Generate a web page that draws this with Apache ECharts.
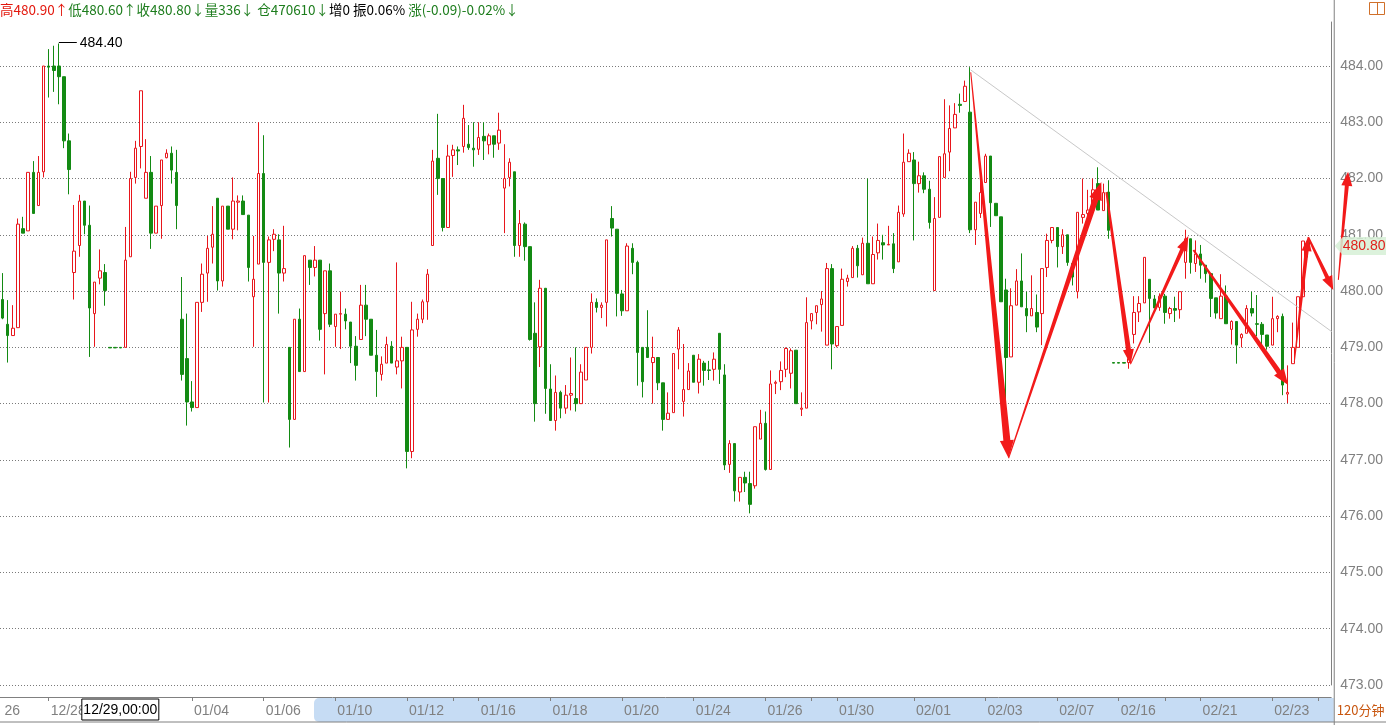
<!DOCTYPE html>
<html><head><meta charset="utf-8">
<script src="https://cdn.jsdelivr.net/npm/echarts@6/dist/echarts.min.js"></script>
<style>html,body{margin:0;padding:0;background:#fff;}#c{width:1386px;height:725px;}</style>
</head><body><div id="c"></div>
<script>
// ---------- DATA ----------
const opens = [
479.85,479.41,479.21,479.35,481.11,481.07,482.11,481.52,482.12,484.00,
484.00,484.00,483.81,482.67,480.33,480.81,481.60,481.17,479.60,480.23,
480.33,479.00,479.00,479.00,479.00,480.61,482.02,482.57,481.65,482.11,
481.03,481.52,482.37,482.45,482.11,479.50,478.80,478.03,477.93,479.80,
480.32,480.78,481.65,480.18,481.51,481.10,481.58,481.60,481.35,479.90,
480.48,482.09,480.51,480.92,480.91,480.32,479.00,477.72,479.50,478.57,
480.55,480.42,480.55,479.60,480.36,479.37,479.59,479.59,479.45,479.02,
479.14,479.75,479.50,478.86,478.52,478.72,479.02,478.65,478.76,479.00,
477.15,479.32,479.50,479.81,480.81,482.36,482.00,481.13,482.41,482.51,
482.57,482.61,482.54,482.52,482.75,482.60,482.76,482.63,481.83,482.02,
482.12,480.81,481.19,480.79,479.25,479.01,480.05,478.26,477.70,478.20,
477.92,478.15,478.09,478.00,478.42,479.00,479.80,479.71,479.80,481.29,
481.10,479.95,479.65,480.76,480.51,479.00,479.00,478.73,478.82,478.37,
477.72,477.84,478.97,478.04,478.25,478.86,478.38,478.72,478.60,478.61,
479.25,478.51,476.92,477.29,476.43,476.69,476.58,476.54,477.37,477.65,
476.83,478.36,478.39,478.61,478.54,478.95,477.90,477.92,479.47,479.62,
479.76,479.04,480.40,479.03,479.39,480.17,480.24,480.76,480.29,480.85,
480.13,480.68,480.86,480.82,480.84,480.52,481.37,482.30,482.33,481.91,
482.05,481.81,480.01,481.31,482.02,482.47,482.90,483.32,483.37,483.18,
481.09,481.38,481.93,482.40,481.56,481.32,480.02,478.83,479.75,480.18,
479.69,479.56,479.62,479.60,480.42,480.90,481.13,480.79,481.00,480.49,
479.99,481.31,481.38,481.44,481.91,481.43,481.76,478.73,478.73,478.73,
478.73,479.23,479.63,479.79,480.21,479.86,479.71,479.91,479.60,479.69,
479.67,480.51,480.93,480.49,480.66,480.46,480.31,479.88,479.51,479.91,
479.32,479.46,479.17,479.25,479.69,479.42,479.41,479.22,479.04,479.51,
479.55,478.17,478.71,479.00,479.90,480.87];
const closes = [
479.52,479.21,479.34,481.19,481.03,482.11,481.38,482.11,484.00,483.98,
483.92,483.81,482.67,482.16,480.71,481.60,481.17,479.70,480.16,480.36,
480.01,478.99,478.99,478.99,480.55,482.00,482.54,483.56,482.11,481.03,
481.51,482.33,482.45,482.15,481.52,478.52,478.03,477.93,479.80,480.30,
480.76,481.01,480.18,481.51,481.10,481.60,481.60,481.36,480.42,480.21,
482.09,480.51,480.91,481.01,480.32,480.40,477.72,479.50,478.57,480.63,
480.42,480.55,479.32,480.36,479.41,479.59,479.60,479.47,479.02,478.68,
479.75,479.50,478.86,478.57,478.70,479.05,478.72,478.76,479.00,477.15,
479.31,479.50,479.81,480.30,482.31,482.00,481.13,482.40,482.51,482.49,
483.07,482.55,482.51,482.73,482.67,482.76,482.61,482.86,482.00,482.29,
480.81,481.20,480.79,479.14,478.00,480.05,478.27,477.70,478.20,477.92,
478.15,478.18,478.00,478.56,479.00,479.80,479.71,479.75,480.91,481.12,
479.96,479.65,480.80,480.51,478.91,478.39,478.82,478.82,478.37,477.72,
477.83,478.89,479.31,478.25,478.58,478.38,478.79,478.59,478.59,478.79,
478.61,476.91,477.29,476.45,476.69,476.59,476.21,477.59,477.65,476.83,
478.35,478.38,478.59,478.98,478.94,478.00,477.92,479.44,479.60,479.74,
479.86,480.40,479.06,479.37,480.21,480.23,480.76,480.45,480.85,480.13,
480.65,480.90,480.82,480.83,480.40,481.40,482.29,482.45,481.91,482.05,
481.81,481.22,481.29,482.39,482.44,482.89,483.14,483.30,483.64,481.09,
481.58,481.75,482.40,481.57,481.34,479.81,478.82,479.74,480.18,479.72,
479.56,479.69,479.36,480.40,480.90,481.13,480.79,481.00,480.51,480.25,
481.40,481.36,481.44,481.80,481.44,481.75,481.08,478.72,478.72,478.72,
478.80,479.62,479.78,480.60,479.87,479.70,479.91,479.62,479.69,479.66,
479.99,480.93,480.51,480.66,480.46,480.31,479.87,479.61,479.91,479.42,
479.46,479.04,479.23,479.69,479.61,479.41,479.23,479.02,479.51,479.55,
478.33,478.20,479.00,479.90,480.89,480.80];
const lows = [
479.50,478.73,479.21,479.35,481.03,481.07,481.38,481.52,482.02,483.44,
483.54,483.32,482.54,481.72,479.85,480.61,481.01,478.83,479.01,480.12,
479.74,478.99,478.99,478.99,479.00,480.61,481.91,482.18,481.65,480.75,
481.03,480.93,482.36,481.91,481.10,478.41,477.61,477.86,477.93,479.63,
479.81,480.49,480.01,480.08,481.10,480.92,481.08,481.36,480.17,479.01,
480.48,478.02,478.02,480.71,479.60,480.17,477.22,477.72,478.57,478.57,
480.11,480.26,479.12,478.52,479.36,479.01,478.97,479.32,478.72,478.41,
479.14,479.20,478.86,478.12,478.41,478.72,478.72,478.52,478.27,476.85,
477.03,479.19,479.43,479.49,480.81,481.71,481.06,481.13,482.03,482.24,
482.46,482.51,482.21,482.42,482.33,482.43,482.37,482.51,481.03,481.86,
480.61,480.61,480.54,479.12,477.68,478.65,477.82,477.70,477.52,477.74,
477.82,477.88,477.86,478.00,478.42,478.89,479.62,479.52,479.37,480.97,
479.55,479.56,479.65,480.30,478.32,478.11,478.82,478.00,478.24,477.52,
477.72,477.84,478.61,477.77,478.25,478.38,478.18,478.32,478.42,478.41,
478.35,476.82,476.77,476.26,476.26,476.43,476.05,476.49,477.37,476.81,
476.83,478.17,478.24,478.47,478.27,478.00,477.78,477.92,479.32,479.41,
479.28,479.04,478.61,479.00,479.39,480.08,480.24,480.24,480.29,480.13,
480.13,480.56,480.56,480.82,480.32,480.52,481.32,482.30,480.90,481.75,
481.74,481.11,480.01,481.31,482.02,482.13,482.90,483.17,483.37,481.03,
480.82,481.30,481.93,481.14,481.34,479.81,478.00,478.83,479.75,479.72,
479.27,479.56,479.27,479.04,480.25,480.85,480.42,480.66,480.45,480.10,
479.87,481.20,481.30,481.44,481.44,481.43,480.93,478.72,478.72,478.72,
478.62,479.07,479.45,479.79,479.08,479.70,479.65,479.42,479.51,479.45,
479.51,480.22,480.31,480.34,480.22,480.15,479.54,479.51,479.51,479.42,
479.05,478.71,479.00,479.25,479.55,479.20,478.96,478.96,479.04,479.27,
478.15,478.01,478.71,479.00,479.90,480.60];
const highs = [
480.32,479.84,479.75,481.29,481.32,482.11,482.31,482.40,484.00,484.30,
484.36,484.40,483.81,482.80,481.53,481.71,481.60,481.52,480.16,480.74,
480.48,479.00,479.00,479.00,481.14,482.12,482.67,483.56,482.70,482.40,
481.51,482.33,482.52,482.57,482.51,480.25,479.60,478.40,479.80,480.49,
480.98,481.51,481.65,481.51,481.51,482.02,481.70,481.70,481.35,480.98,
483.00,482.77,480.97,481.10,481.01,481.16,479.00,479.50,479.69,480.63,
480.55,480.80,480.55,480.36,480.49,479.59,479.99,479.69,479.45,479.20,
480.11,480.11,479.50,479.31,478.84,479.19,479.11,480.51,479.19,479.00,
479.81,479.60,479.85,480.39,482.51,483.15,482.00,482.60,482.60,482.57,
483.31,482.95,483.00,483.00,483.00,482.80,482.76,483.17,482.61,482.36,
482.12,481.44,481.22,480.79,479.80,480.20,480.05,478.70,478.50,478.23,
478.33,478.82,479.00,478.70,479.00,479.96,479.87,479.80,480.91,481.51,
481.10,480.02,480.85,480.85,480.54,479.00,479.66,479.19,478.82,478.37,
478.20,478.89,479.36,479.06,478.72,478.86,478.88,478.76,478.76,478.91,
479.25,478.70,477.35,477.29,476.69,476.79,476.79,477.59,477.89,477.86,
478.59,478.41,478.75,479.00,478.98,478.95,478.20,479.89,479.60,479.74,
480.00,480.50,480.48,479.37,480.40,480.29,480.80,480.82,480.95,482.00,
480.97,481.20,481.00,481.16,481.03,481.52,482.80,482.52,482.47,482.30,
482.11,481.96,481.67,482.39,483.41,483.30,483.34,483.51,483.74,483.98,
481.58,482.00,482.44,482.40,481.56,481.32,480.22,480.05,480.39,480.67,
479.99,480.28,479.94,480.40,481.02,481.13,481.13,481.10,481.00,480.49,
481.40,482.00,481.80,482.00,482.20,481.91,481.97,478.73,478.73,478.73,
478.83,479.91,479.91,480.60,480.21,479.93,479.96,479.95,479.72,479.90,
479.99,481.09,480.93,480.90,480.82,480.46,480.31,479.88,480.30,480.10,
479.48,479.46,479.25,479.75,479.99,479.93,479.45,479.22,479.90,479.57,
479.60,478.68,479.44,479.90,480.89,480.90];

const slotCount = 260;                 // category slots on the time axis (incl. empty right margin)
const dateLabelIdx = [0, 9, 37, 51, 65, 79, 93, 107, 121, 135, 149, 163, 178, 192, 206, 218, 234, 248];
const dateLabels   = ['26','12/28','01/04','01/06','01/10','01/12','01/16','01/18','01/20','01/24','01/26','01/30','02/01','02/03','02/07','02/16','02/21','02/23'];
const extraTickIdx = [88, 158, 227, 257];
const cursorIdx = 23, cursorLabel = '12/29,00:00';
const yTicksMin = 473, yTop = 484.782;
const lastPrice = 480.80, peakIdx = 11, peakPrice = 484.40;
// annotation arrows: [startIdx, startPrice, endIdx, endPrice, startWidth, endWidth, headLen, headWidth]
const arrows = [
  [189.1, 483.89, 196.5, 477.03, 1, 7, 18, 14],
  [196.5, 477.03, 214.6, 481.94, 1, 6, 18, 13],
  [215.6, 481.76, 220.3, 478.70, 2, 5, 15, 11],
  [220.3, 478.70, 231.6, 480.98, 1, 4, 15, 11],
  [232.6, 480.73, 251.1, 478.33, 2, 5, 16, 12],
  [252.3, 478.74, 255.0, 480.96, 1, 4, 14, 10],
  [255.0, 480.96, 259.9, 480.02, 2, 4, 14, 11],
  [260.9, 480.20, 262.8, 482.12, 1, 4, 14, 11]
];
const trendLine = [189.1, 483.93, 259.6, 479.28];
const header = [
  ['r','高480.90↑'],['g','低480.60↑'],['g','收480.80↓'],['g','量336↓'],['k',' '],['g','仓470610↓'],['k','增0 振0.06% '],['g','涨(-0.09)-0.02%↓']
];

// ---------- BUILD ----------
const RED = '#e8161c', GREEN = '#138a13', GRAY = '#808080';
const categories = Array.from({length: slotCount}, (_, i) => 'k' + i);
const candles = opens.map((o, i) => [o, closes[i], lows[i], highs[i]]);
const labelMap = new Map(dateLabelIdx.map((d, i) => [d, dateLabels[i]]));
const tickSet = new Set(dateLabelIdx.filter(i => i > 0).concat(extraTickIdx));
const FONT = 'Liberation Sans, Arial, sans-serif';

const chart = echarts.init(document.getElementById('c'));
chart.setOption({
  animation: false,
  backgroundColor: '#ffffff',
  grid: {left: 0, right: 53, top: 22, bottom: 40, containLabel: false},
  xAxis: {
    type: 'category', data: categories, boundaryGap: true, offset: 12,
    axisLine: {show: true, lineStyle: {color: GRAY, width: 1}},
    axisTick: {show: true, alignWithLabel: true, length: 4, interval: (i) => tickSet.has(i), lineStyle: {color: GRAY}},
    axisLabel: {show: true, interval: (i) => labelMap.has(i), formatter: (v, i) => labelMap.get(i) || '',
      align: 'left', color: GRAY, fontSize: 14, fontFamily: FONT, margin: 7, padding: [0, 0, 0, 2]},
    splitLine: {show: false}
  },
  yAxis: {
    type: 'value', position: 'right', min: yTicksMin, max: yTop, interval: 1,
    axisLine: {show: true, lineStyle: {color: GRAY}},
    axisTick: {show: false},
    axisLabel: {color: GRAY, fontSize: 14, fontFamily: FONT, margin: 9, showMaxLabel: false,
      formatter: (v) => Math.abs(v - Math.round(v)) < 1e-6 ? v.toFixed(2) : ''},
    splitLine: {show: true, showMaxLine: false, lineStyle: {color: '#7a7a7a', type: [1, 2], width: 1}}
  },
  series: [{
    type: 'candlestick', data: candles, barWidth: 3,
    itemStyle: {color: '#ffffff', color0: GREEN, borderColor: RED, borderColor0: GREEN, borderWidth: 1}
  }]
});

// ---------- ANNOTATIONS (positioned through the chart's scales) ----------
function px(idx, price) {
  const a = chart.convertToPixel({gridIndex: 0}, [0, price]);
  const b = chart.convertToPixel({gridIndex: 0}, [100, price]);
  return [a[0] + (b[0] - a[0]) * idx / 100, a[1]];
}
function arrowPoly(p0, p1, w0, w1, hl, hw) {
  const dx = p1[0] - p0[0], dy = p1[1] - p0[1], L = Math.hypot(dx, dy);
  const ux = dx / L, uy = dy / L, nx = -uy, ny = ux;
  const bx = p1[0] - ux * hl, by = p1[1] - uy * hl;
  return [
    [p0[0] + nx * w0 / 2, p0[1] + ny * w0 / 2],
    [bx + nx * w1 / 2, by + ny * w1 / 2],
    [bx + nx * hw / 2, by + ny * hw / 2],
    [p1[0], p1[1]],
    [bx - nx * hw / 2, by - ny * hw / 2],
    [bx - nx * w1 / 2, by - ny * w1 / 2],
    [p0[0] - nx * w0 / 2, p0[1] - ny * w0 / 2]
  ];
}
const W = 1386, H = 725;
const gridRight = px(slotCount, 480)[0];
const axisY = px(0, yTicksMin)[1] + 12;
const g = [];
// bottom band
g.push({type: 'rect', z: -10, shape: {x: 314, y: axisY + 1, width: gridRight - 314, height: 24, r: [5, 0, 0, 5]}, style: {fill: '#c6dcf4'}});
g.push({type: 'line', z: 5, shape: {x1: 0, y1: axisY + 25, x2: W, y2: axisY + 25}, style: {stroke: GRAY, lineWidth: 1}});
g.push({type: 'line', z: 5, shape: {x1: gridRight + 0.5, y1: 0, x2: gridRight + 0.5, y2: H}, style: {stroke: GRAY, lineWidth: 1}});
// cursor box label
const cx = px(cursorIdx, 480)[0];
g.push({type: 'rect', z: 10, shape: {x: cx - 38.5, y: axisY + 2, width: 77, height: 21}, style: {fill: '#fff', stroke: '#000', lineWidth: 1}});
g.push({type: 'text', z: 11, x: cx, y: axisY + 13, style: {text: cursorLabel, fill: '#000', font: '14px ' + FONT, align: 'center', verticalAlign: 'middle'}});
// period label
g.push({type: 'text', z: 11, x: gridRight + 3, y: axisY + 13, style: {text: '120分钟', fill: '#c8560f', font: '13px Noto Sans CJK SC', verticalAlign: 'middle'}});
// top-right icon
g.push({type: 'rect', z: 11, shape: {x: 1369.5, y: 2.5, width: 15, height: 12}, style: {fill: 'none', stroke: '#d0702a', lineWidth: 1}});
g.push({type: 'line', z: 11, shape: {x1: 1377.5, y1: 2.5, x2: 1377.5, y2: 14.5}, style: {stroke: '#d0702a', lineWidth: 1}});
// header
const rich = {r: {fill: '#e3170d'}, g: {fill: '#1d7d1d'}, k: {fill: '#000'}};
Object.keys(rich).forEach(k => { rich[k].fontSize = 13.5; rich[k].fontFamily = 'Noto Sans CJK SC'; });
g.push({type: 'text', z: 11, x: 0, y: 10, style: {text: header.map(h => '{' + h[0] + '|' + h[1] + '}').join(''), rich, verticalAlign: 'middle'}});
// peak label
const pk0 = px(peakIdx, peakPrice), pk1 = px(peakIdx + 3.5, peakPrice);
g.push({type: 'line', z: 12, shape: {x1: pk0[0], y1: Math.round(pk0[1]) - 0.5, x2: pk1[0], y2: Math.round(pk0[1]) - 0.5}, style: {stroke: '#000', lineWidth: 1}});
g.push({type: 'text', z: 12, x: pk1[0] + 3, y: pk0[1], style: {text: peakPrice.toFixed(2), fill: '#000', font: '14px ' + FONT, verticalAlign: 'middle'}});
// trend line
const t0 = px(trendLine[0], trendLine[1]), t1 = px(trendLine[2], trendLine[3]);
g.push({type: 'line', z: 12, shape: {x1: t0[0], y1: t0[1], x2: t1[0], y2: t1[1]}, style: {stroke: '#c8c8c8', lineWidth: 1}});
// arrows
arrows.forEach(a => {
  g.push({type: 'polygon', z: 13, shape: {points: arrowPoly(px(a[0], a[1]), px(a[2], a[3]), a[4], a[5], a[6], a[7])}, style: {fill: '#f21a1a'}});
});
// last price marker
const ly = px(0, lastPrice)[1];
g.push({type: 'polygon', z: 14, shape: {points: [[gridRight + 1, ly], [gridRight + 9, ly - 9], [W, ly - 9], [W, ly + 9], [gridRight + 9, ly + 9]]}, style: {fill: 'rgba(214,240,214,0.85)'}});
g.push({type: 'text', z: 15, x: gridRight + 9, y: ly, style: {text: lastPrice.toFixed(2), fill: '#e0201c', font: '14px ' + FONT, verticalAlign: 'middle'}});
chart.setOption({graphic: {elements: g}});
</script>
</body></html>
